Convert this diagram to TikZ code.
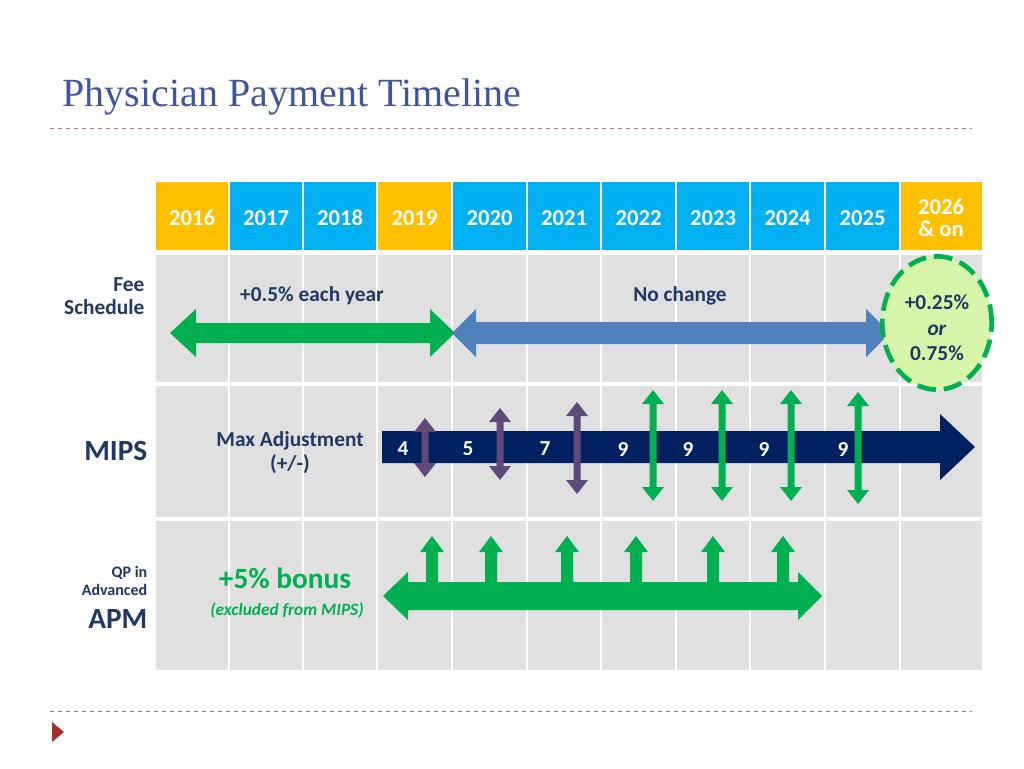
\documentclass[tikz,border=0pt]{standalone}
\usetikzlibrary{shapes.geometric}
\usepackage{fontspec}
\setmainfont{Liberation Serif}
\newfontfamily\cf{Carlito}
\definecolor{gold}{HTML}{FFC000}
\definecolor{cyanh}{HTML}{00B0F0}
\definecolor{cellg}{HTML}{E0E0E0}
\definecolor{navy}{HTML}{002060}
\definecolor{lbl}{HTML}{1F3864}
\definecolor{grn}{HTML}{00B050}
\definecolor{lgrn}{HTML}{D6F5A8}
\definecolor{blu}{HTML}{4F81BD}
\definecolor{purp}{HTML}{5F497A}
\definecolor{ttl}{HTML}{3F55A0}
\definecolor{dred}{HTML}{A5302A}
\begin{document}
\begin{tikzpicture}[x=0.75pt,y=-0.75pt,
  yr/.style={font=\cf\bfseries\fontsize{17}{19}\selectfont,text=white,align=center},
  lab/.style={font=\cf\bfseries,text=lbl,align=right,anchor=east},
  num/.style={font=\cf\bfseries\fontsize{16}{18}\selectfont,text=white},
  dl/.style={dred!70,dashed,line width=0.6pt}]
\useasboundingbox (0,0) rectangle (1024,768);
\fill[white] (0,0) rectangle (1024,768);
\node[anchor=west,text=ttl,font=\fontsize{30}{34}\selectfont] (title) at (58,97) {Physician Payment Timeline};
\coordinate (l1a) at (50,128); \coordinate (l1b) at (972,128);
\draw[dl] (l1a) -- (l1b);
\coordinate (l2a) at (50,711); \coordinate (l2b) at (972,711);
\draw[dl] (l2a) -- (l2b);
\fill[dred] (52,722) -- (64,732) -- (52,742) -- cycle;
% grid
\def\xs{{155,229,303,377,452,527,601,676,750,825,900,982}}
\foreach \i/\y/\c in {0/2016/gold,1/2017/cyanh,2/2018/cyanh,3/2019/gold,4/2020/cyanh,5/2021/cyanh,6/2022/cyanh,7/2023/cyanh,8/2024/cyanh,9/2025/cyanh}{
  \pgfmathsetmacro\xa{\xs[\i]}\pgfmathsetmacro\xb{\xs[\i+1]}
  \fill[\c] (\xa+1,182) rectangle (\xb-1,250);
  \node[yr] at ({(\xa+\xb)/2},218) {\y};
  \foreach \ya/\yb in {255/382,386/517,521/670}{\fill[cellg] (\xa+1,\ya) rectangle (\xb-1,\yb);}
}
\fill[gold] (901,182) rectangle (982,250);
\node[yr] at (941,218) {2026\\[-2pt]\& on};
\foreach \ya/\yb in {255/382,386/517,521/670}{\fill[cellg] (901,\ya) rectangle (982,\yb);}
% labels
\node[lab,font=\cf\bfseries\fontsize{16}{17}\selectfont] (fee) at (149,296) {Fee\\Schedule};
\node[lab,font=\cf\bfseries\fontsize{22}{24}\selectfont] (mips) at (152,451) {MIPS};
\node[lab,font=\cf\bfseries\fontsize{12}{14}\selectfont] (qp) at (152,581) {QP in\\Advanced};
\node[lab,font=\cf\bfseries\fontsize{22}{24}\selectfont] (apm) at (152,619) {APM};
% fee schedule
\node[font=\cf\bfseries\fontsize{16}{18}\selectfont,text=lbl] (each) at (312,296) {+0.5\% each year};
\node[font=\cf\bfseries\fontsize{16}{18}\selectfont,text=lbl] (noch) at (680,296) {No change};
\fill[grn] (170,333) -- (196,309) -- (196,323) -- (430,323) -- (430,309) -- (455,333) -- (430,357) -- (430,343) -- (196,343) -- (196,357) -- cycle;
\fill[blu] (452,333) -- (476,309) -- (476,322) -- (866,322) -- (866,309) -- (890,333) -- (866,357) -- (866,344) -- (476,344) -- (476,357) -- cycle;
\node[ellipse,draw=grn,fill=lgrn,line width=3.5pt,dash pattern=on 14pt off 6pt,minimum width=82pt,minimum height=100pt,inner sep=0pt] (circ) at (937,323) {};
\node[font=\cf\bfseries\fontsize{16}{19}\selectfont,text=lbl,align=center] at (937,328) {+0.25\%\\\textit{or}\\0.75\%};
% MIPS
\fill[navy] (382,431) -- (940,431) -- (940,414) -- (975,447) -- (940,480) -- (940,463) -- (382,463) -- cycle;
\node[font=\cf\bfseries\fontsize{16}{18}\selectfont,text=lbl,align=center] (maxa) at (290,453) {Max Adjustment\\(+/-)};
\foreach \x/\a/\b/\c in {425/418/477/purp,500/408/480/purp,577/402/494/purp,653/390/501/grn,722/390/501/grn,791/390/501/grn,858/392/504/grn}{
  \fill[\c] (\x,\a) -- (\x+11,\a+14) -- (\x+3.5,\a+14) -- (\x+3.5,\b-14) -- (\x+11,\b-14) -- (\x,\b) -- (\x-11,\b-14) -- (\x-3.5,\b-14) -- (\x-3.5,\a+14) -- (\x-11,\a+14) -- cycle;}
\foreach \x/\n in {403/4,468/5,545/7,623/9,688/9,764/9,843/9}{\node[num] at (\x,449) {\n};}
% APM
\fill[grn] (383,596) -- (408,572) -- (408,582) -- (798,582) -- (798,572) -- (822,596) -- (798,620) -- (798,610) -- (408,610) -- (408,620) -- cycle;
\foreach \x in {432,491,567,636,713,783}{
  \fill[grn] (\x-6,583) -- (\x-6,552) -- (\x-12,552) -- (\x,536) -- (\x+12,552) -- (\x+6,552) -- (\x+6,583) -- cycle;}
\node[font=\cf\bfseries\fontsize{22}{24}\selectfont,text=grn] (bonus) at (285,578) {+5\% bonus};
\node[font=\cf\bfseries\itshape\fontsize{13}{15}\selectfont,text=grn] (excl) at (287,610) {(excluded from MIPS)};
\end{tikzpicture}
\end{document}
